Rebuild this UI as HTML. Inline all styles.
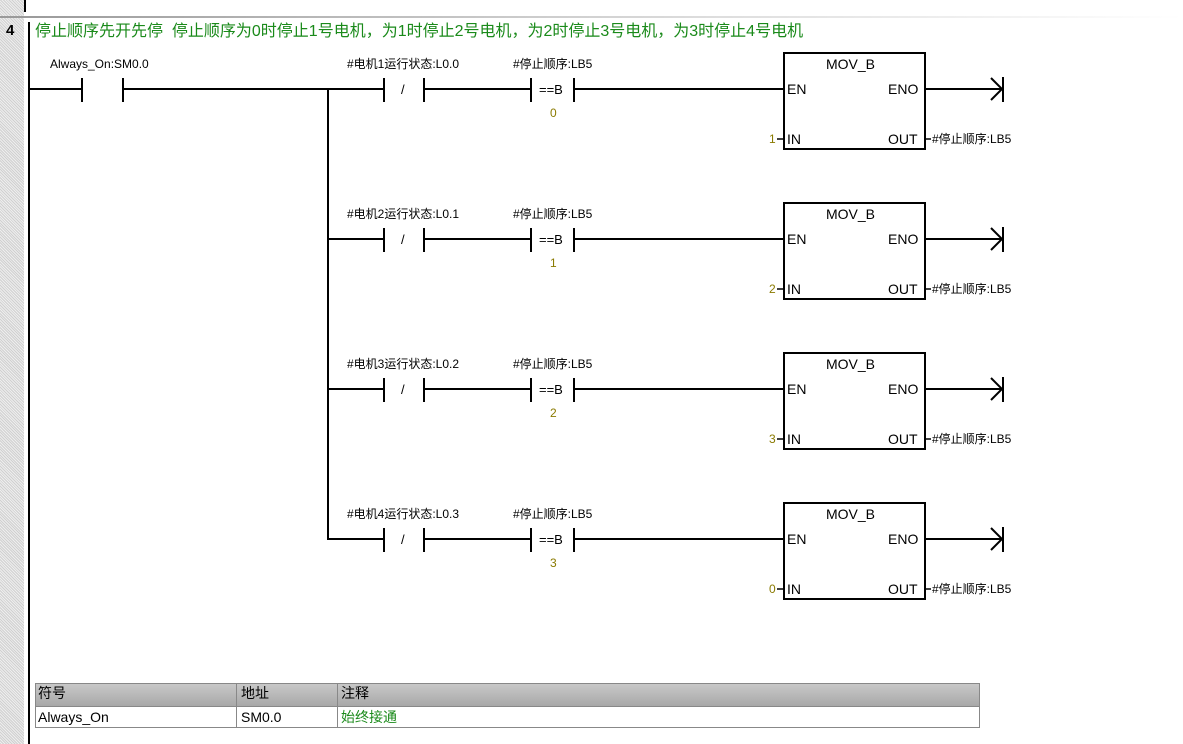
<!DOCTYPE html>
<html><head><meta charset="utf-8"><style>
body{margin:0;width:1183px;height:744px;background:#fff;overflow:hidden;position:relative;font-family:"Liberation Sans","Noto Sans CJK SC",sans-serif;}
.t{position:absolute;font-size:12px;color:#000;white-space:nowrap;line-height:14px}
</style></head><body>
<div style="position:absolute;left:0;top:0;width:24px;height:744px;background:repeating-linear-gradient(45deg,#d0d0d0 0 1px,#eee 1px 2px)"></div>
<div style="position:absolute;left:0;top:16px;width:1183px;height:2px;background:linear-gradient(90deg,#999,#ddd 60%,#fff)"></div>
<div class="t" style="left:6px;top:24px;font-size:15px;font-weight:bold">4</div>
<div class="t" style="left:35px;top:24px;font-size:16px;line-height:16px;color:#1a8a1a">停止顺序先开先停&nbsp;&nbsp;停止顺序为0时停止1号电机，为1时停止2号电机，为2时停止3号电机，为3时停止4号电机</div>
<svg width="1183" height="744" style="position:absolute;left:0;top:0" font-family="Liberation Sans, Noto Sans CJK SC, sans-serif">
<g stroke="#000" stroke-width="2" fill="none">
<line x1="25" y1="0" x2="25" y2="12"/>
<line x1="29" y1="22" x2="29" y2="744"/>
<line x1="29" y1="89" x2="82" y2="89"/>
<line x1="82" y1="78" x2="82" y2="102"/><line x1="123" y1="78" x2="123" y2="102"/>
<line x1="123" y1="89" x2="328" y2="89"/>
<line x1="328" y1="89" x2="328" y2="540"/>
</g>
<text x="50" y="68" font-size="12">Always_On:SM0.0</text>
<g id="r">
<g stroke="#000" stroke-width="2" fill="none">
<line x1="328" y1="89" x2="384" y2="89"/>
<line x1="384" y1="78" x2="384" y2="102"/><line x1="424" y1="78" x2="424" y2="102"/>
<line x1="424" y1="89" x2="531" y2="89"/>
<line x1="531" y1="78" x2="531" y2="102"/><line x1="574" y1="78" x2="574" y2="102"/>
<line x1="574" y1="89" x2="784" y2="89"/>
<rect x="784" y="53" width="141" height="96"/>
<line x1="925" y1="89" x2="1003" y2="89"/>
<line x1="1003" y1="77" x2="1003" y2="102"/>
<polyline points="991,78 1002,89 991,100"/>
<line x1="777" y1="139" x2="784" y2="139" stroke-width="1.5"/>
<line x1="925" y1="139" x2="931" y2="139" stroke-width="1.5"/>
</g>
<text x="401" y="94" font-size="13">/</text>
<text x="539" y="94" font-size="13">==B</text>
<text x="826" y="69" font-size="14">MOV_B</text>
<text x="787" y="94" font-size="14">EN</text>
<text x="888" y="94" font-size="14">ENO</text>
<text x="787" y="144" font-size="14">IN</text>
<text x="888" y="144" font-size="14">OUT</text>
<text x="932" y="143" font-size="12">#停止顺序:LB5</text>
<text x="513" y="68" font-size="12">#停止顺序:LB5</text>
</g>
<use href="#r" y="150"/><use href="#r" y="300"/><use href="#r" y="450"/>
<g font-size="12">
<text x="347" y="68">#电机1运行状态:L0.0</text>
<text x="347" y="218">#电机2运行状态:L0.1</text>
<text x="347" y="368">#电机3运行状态:L0.2</text>
<text x="347" y="518">#电机4运行状态:L0.3</text>
</g>
<g font-size="12" fill="#8a7a00">
<text x="550" y="117">0</text><text x="550" y="267">1</text><text x="550" y="417">2</text><text x="550" y="567">3</text>
<text x="769" y="143">1</text><text x="769" y="293">2</text><text x="769" y="443">3</text><text x="769" y="593">0</text>
</g>
</svg>
<div style="position:absolute;left:35px;top:683px;width:945px;height:45px;border:1px solid #888;box-sizing:border-box">
<div style="height:22px;background:linear-gradient(#c8c8c8,#a8a8a8);border-bottom:1px solid #888"></div>
</div>
<div style="position:absolute;left:236px;top:683px;width:1px;height:45px;background:#888"></div>
<div style="position:absolute;left:337px;top:683px;width:1px;height:45px;background:#888"></div>
<div class="t" style="left:38px;top:686px;font-size:14px">符号</div>
<div class="t" style="left:241px;top:686px;font-size:14px">地址</div>
<div class="t" style="left:341px;top:686px;font-size:14px">注释</div>
<div class="t" style="left:38px;top:710px;font-size:14px">Always_On</div>
<div class="t" style="left:241px;top:710px;font-size:14px">SM0.0</div>
<div class="t" style="left:341px;top:710px;font-size:14px;color:#1a8a1a">始终接通</div>
</body></html>
